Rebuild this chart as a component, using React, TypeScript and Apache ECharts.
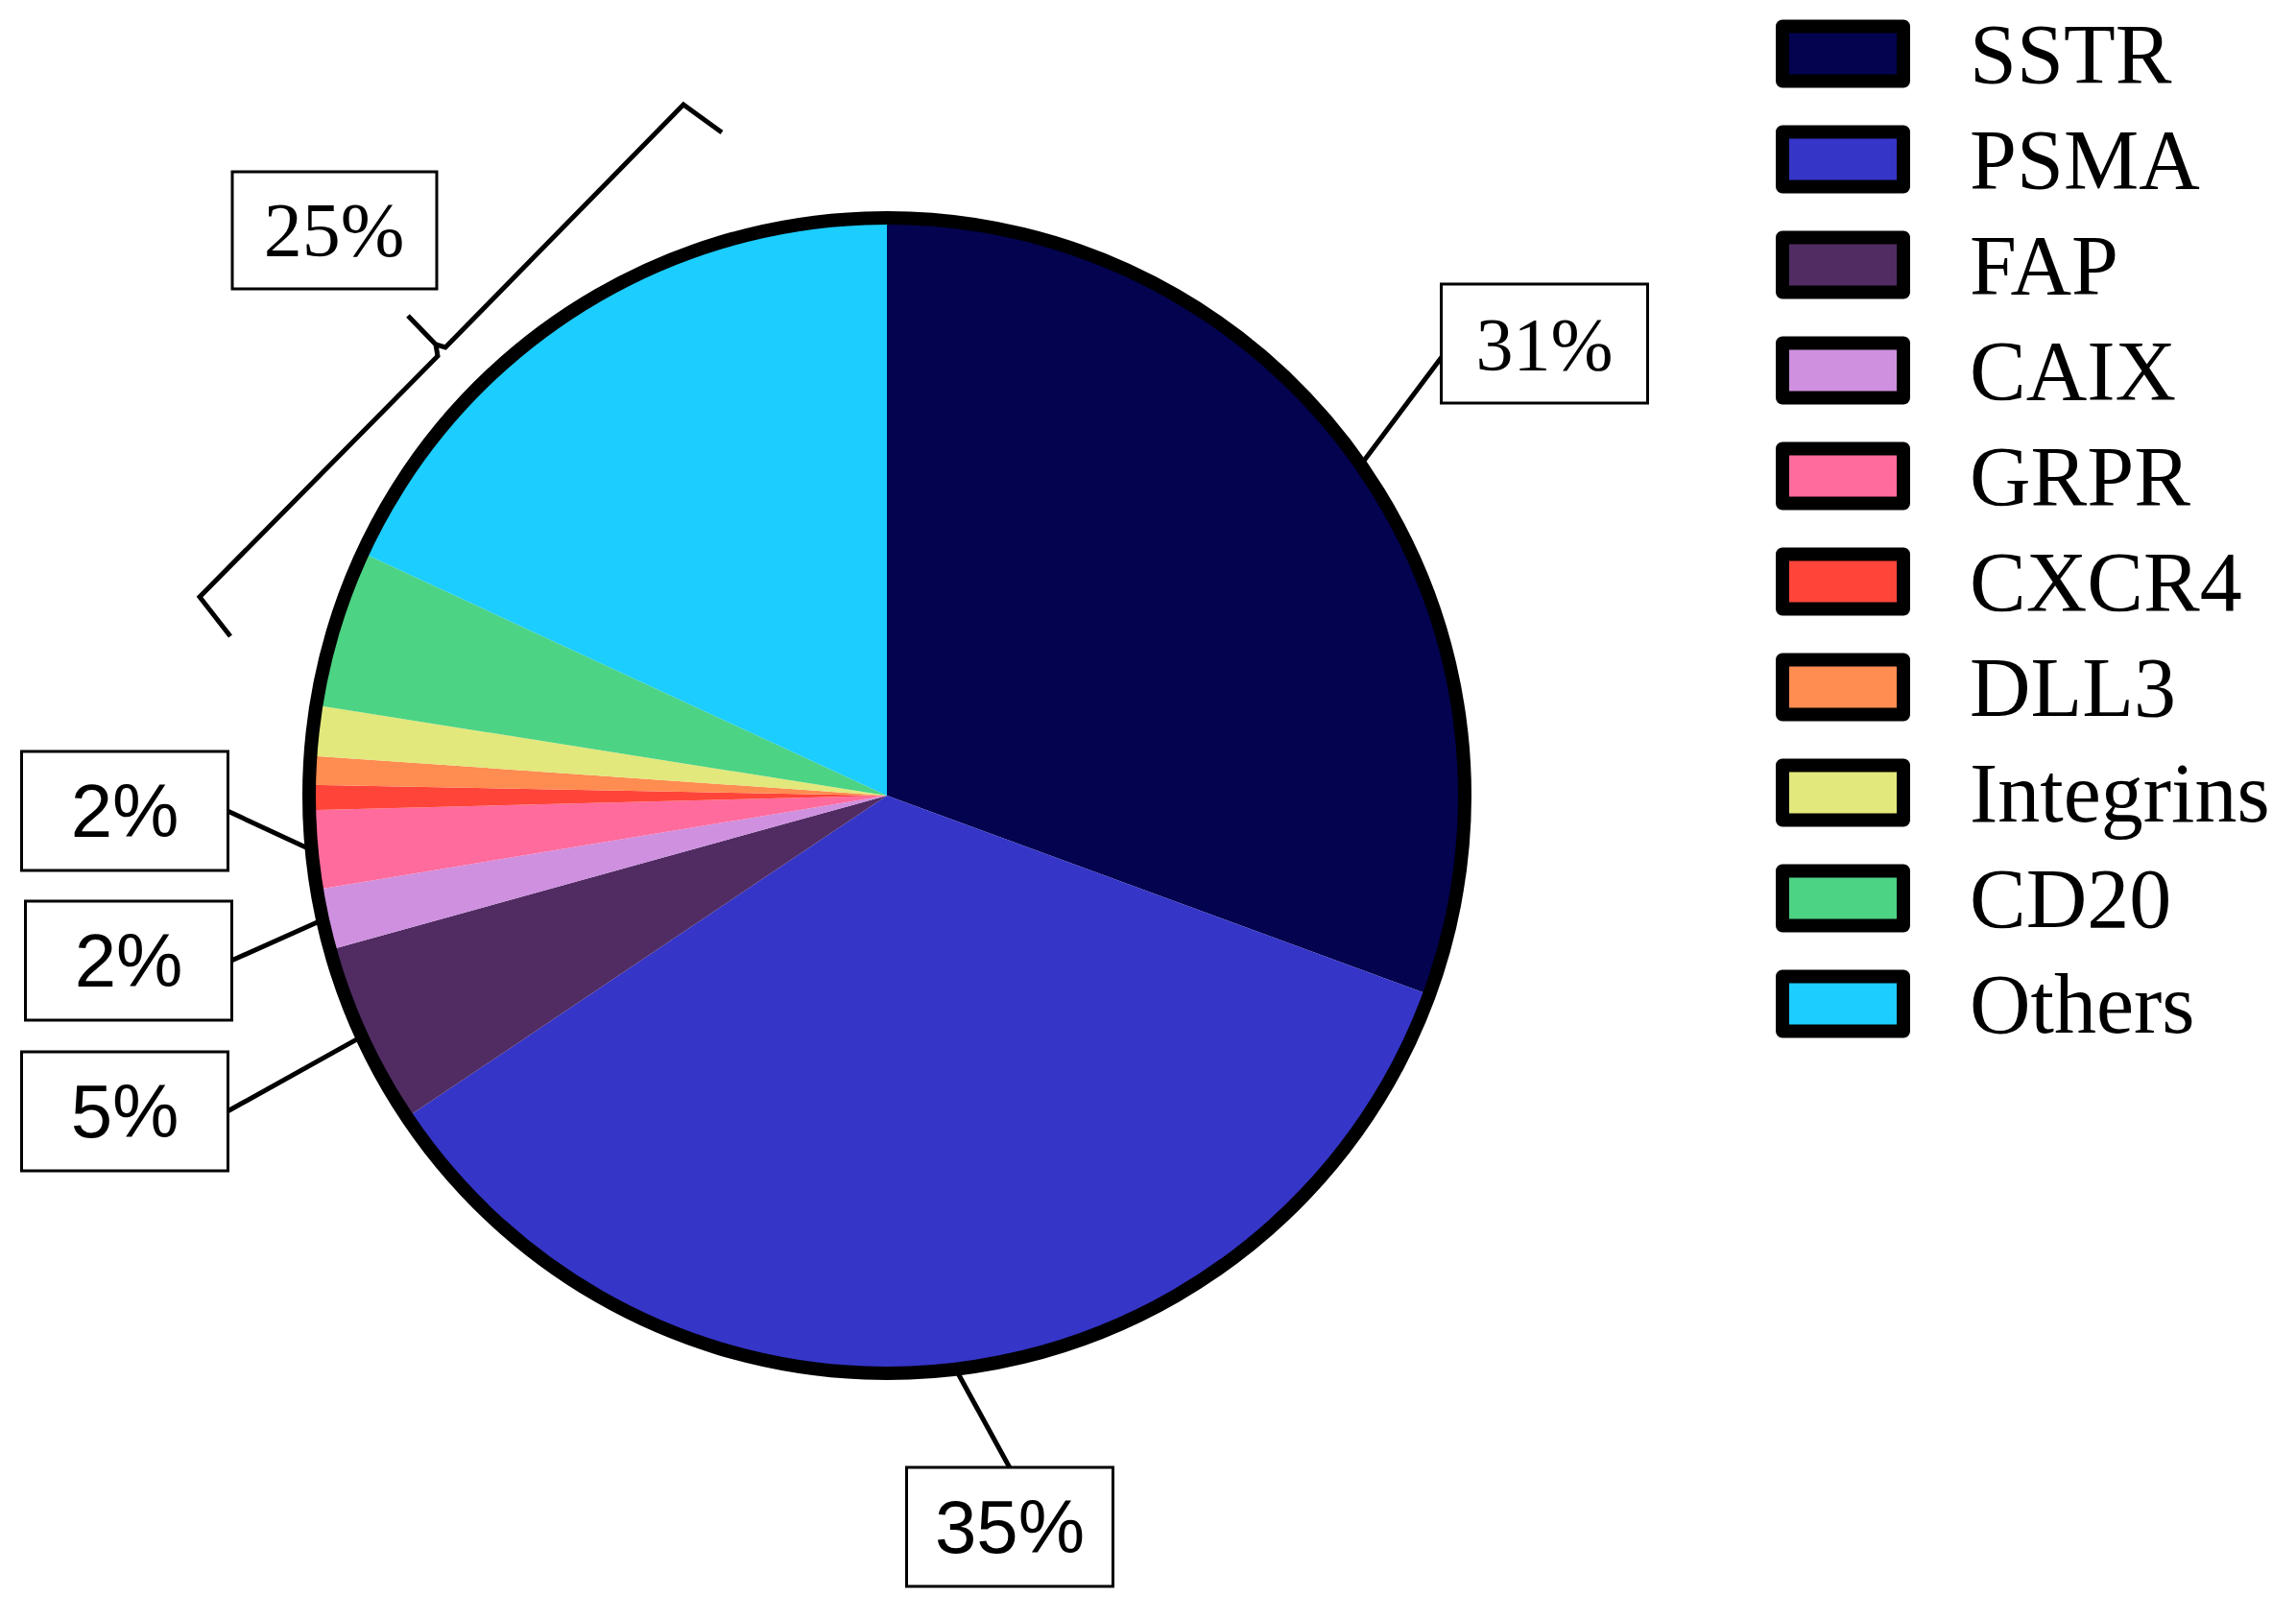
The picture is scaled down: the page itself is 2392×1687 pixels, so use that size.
import React, { useEffect, useRef } from "react";
import * as echarts from "echarts";

// Share of radiopharmaceutical targets (%)
const categories = ["SSTR", "PSMA", "FAP", "CAIX", "GRPR", "CXCR4", "DLL3", "Integrins", "CD20", "Others"];
const shares = [30.6, 35.0, 5.1, 1.7, 2.2, 0.7, 0.8, 1.4, 4.4, 18.1];
const sliceColors = [
  "#03034f", "#3535c8", "#502c63", "#cf90e0", "#ff6b9d",
  "#ff4539", "#ff8c50", "#e2e87b", "#4cd384", "#1ccdff",
];
// Targets summarised together by the bracket
const bracketGroup = ["CXCR4", "DLL3", "Integrins", "CD20", "Others"];

const SERIF = '"Liberation Serif", "Times New Roman", serif';
const SANS = '"Liberation Sans", Arial, sans-serif';

const CX = 924;
const CY = 829;
const R = 602;
const BOX_W = 212;
const BOX_H = 121;

// Callout boxes for individual slices: box centre and where the leader meets the box
const callouts: Record<string, { cx: number; cy: number; side: string; dy?: number; family: string }> = {
  SSTR: { cx: 1609, cy: 358, side: "left", dy: 14, family: SERIF },
  PSMA: { cx: 1052, cy: 1591, side: "top", family: SANS },
  FAP: { cx: 130, cy: 1158, side: "right", family: SANS },
  CAIX: { cx: 134, cy: 1001, side: "right", family: SANS },
  GRPR: { cx: 130, cy: 845, side: "right", family: SANS },
};

const total = shares.reduce((a, b) => a + b, 0);
const pct = (v: number) => Math.round((v / total) * 100) + "%";
const groupShare = categories.reduce(
  (s, name, i) => (bracketGroup.includes(name) ? s + shares[i] : s),
  0
);

export default function App() {
  const ref = useRef<HTMLDivElement>(null);

  useEffect(() => {
    if (!ref.current) return;
    const chart = echarts.init(ref.current, undefined, { renderer: "svg" });

    const data = categories.map((name, i) => {
      const c = callouts[name];
      return {
        name,
        value: shares[i],
        itemStyle: { color: sliceColors[i] },
        label: c ? { show: true, fontFamily: c.family } : { show: false },
        labelLine: { show: !!c },
      };
    });

    chart.setOption({
      animation: false,
      backgroundColor: "#ffffff",
      legend: {
        orient: "vertical",
        left: 1850,
        top: 12,
        padding: 0,
        icon: "rect",
        itemWidth: 126,
        itemHeight: 57,
        itemGap: 22,
        selectedMode: false,
        itemStyle: { borderColor: "#000", borderWidth: 14 },
        textStyle: {
          fontFamily: SERIF,
          fontSize: 88,
          color: "#000",
          padding: [0, 0, 0, 64],
        },
        data: categories,
      },
      series: [
        {
          type: "pie",
          center: [CX, CY],
          radius: R,
          startAngle: 90,
          clockwise: true,
          silent: true,
          avoidLabelOverlap: false,
          emphasis: { disabled: true },
          itemStyle: { borderWidth: 0 },
          label: {
            position: "outside",
            formatter: (p: any) => pct(p.value),
            color: "#000",
            fontSize: 78,
            backgroundColor: "#fff",
            borderColor: "#000",
            borderWidth: 3,
            width: BOX_W,
            height: BOX_H,
            lineHeight: BOX_H,
            align: "center",
            padding: 0,
          },
          labelLine: {
            length: 20,
            length2: 0,
            lineStyle: { color: "#000", width: 5 },
          },
          labelLayout: (params: any) => {
            const c = callouts[categories[params.dataIndex]];
            if (!c) return {};
            let ex = c.cx;
            let ey = c.cy;
            if (c.side === "left") ex = c.cx - BOX_W / 2 - 1;
            if (c.side === "right") ex = c.cx + BOX_W / 2 + 1;
            if (c.side === "top") ey = c.cy - BOX_H / 2 - 1;
            ey += c.dy || 0;
            const pts = params.labelLinePoints;
            const start = pts && pts[0] ? pts[0] : [ex, ey];
            return {
              x: c.cx,
              y: c.cy,
              align: "center",
              verticalAlign: "middle",
              labelLinePoints: [start, [ex, ey], [ex, ey]],
            };
          },
          data,
        },
      ],
      graphic: [
        {
          type: "circle",
          z: 100,
          silent: true,
          shape: { cx: CX, cy: CY, r: R },
          style: { fill: "none", stroke: "#000", lineWidth: 14 },
        },
        // bracket over the grouped slices: lower arm with its centre tip
        {
          type: "polyline",
          z: 100,
          silent: true,
          shape: { points: [[240, 663], [208, 622], [456, 371], [454, 359], [425, 329]] },
          style: { fill: "none", stroke: "#000", lineWidth: 5, lineJoin: "miter" },
        },
        // upper arm
        {
          type: "polyline",
          z: 100,
          silent: true,
          shape: { points: [[454, 359], [464, 362], [712, 109], [752, 138]] },
          style: { fill: "none", stroke: "#000", lineWidth: 5, lineJoin: "miter" },
        },
        {
          type: "rect",
          z: 100,
          silent: true,
          shape: { x: 242, y: 179, width: 213, height: 122 },
          style: { fill: "#fff", stroke: "#000", lineWidth: 3 },
        },
        {
          type: "text",
          z: 101,
          silent: true,
          style: {
            text: Math.round((groupShare / total) * 100) + "%",
            x: 348,
            y: 240,
            font: `80px ${SERIF}`,
            fill: "#000",
            textAlign: "center",
            textVerticalAlign: "middle",
            align: "center",
            verticalAlign: "middle",
          },
        },
      ],
    });

    return () => chart.dispose();
  }, []);

  return (
    <div
      ref={ref}
      style={{ position: "fixed", left: 0, top: 0, width: 2392, height: 1687 }}
    />
  );
}
